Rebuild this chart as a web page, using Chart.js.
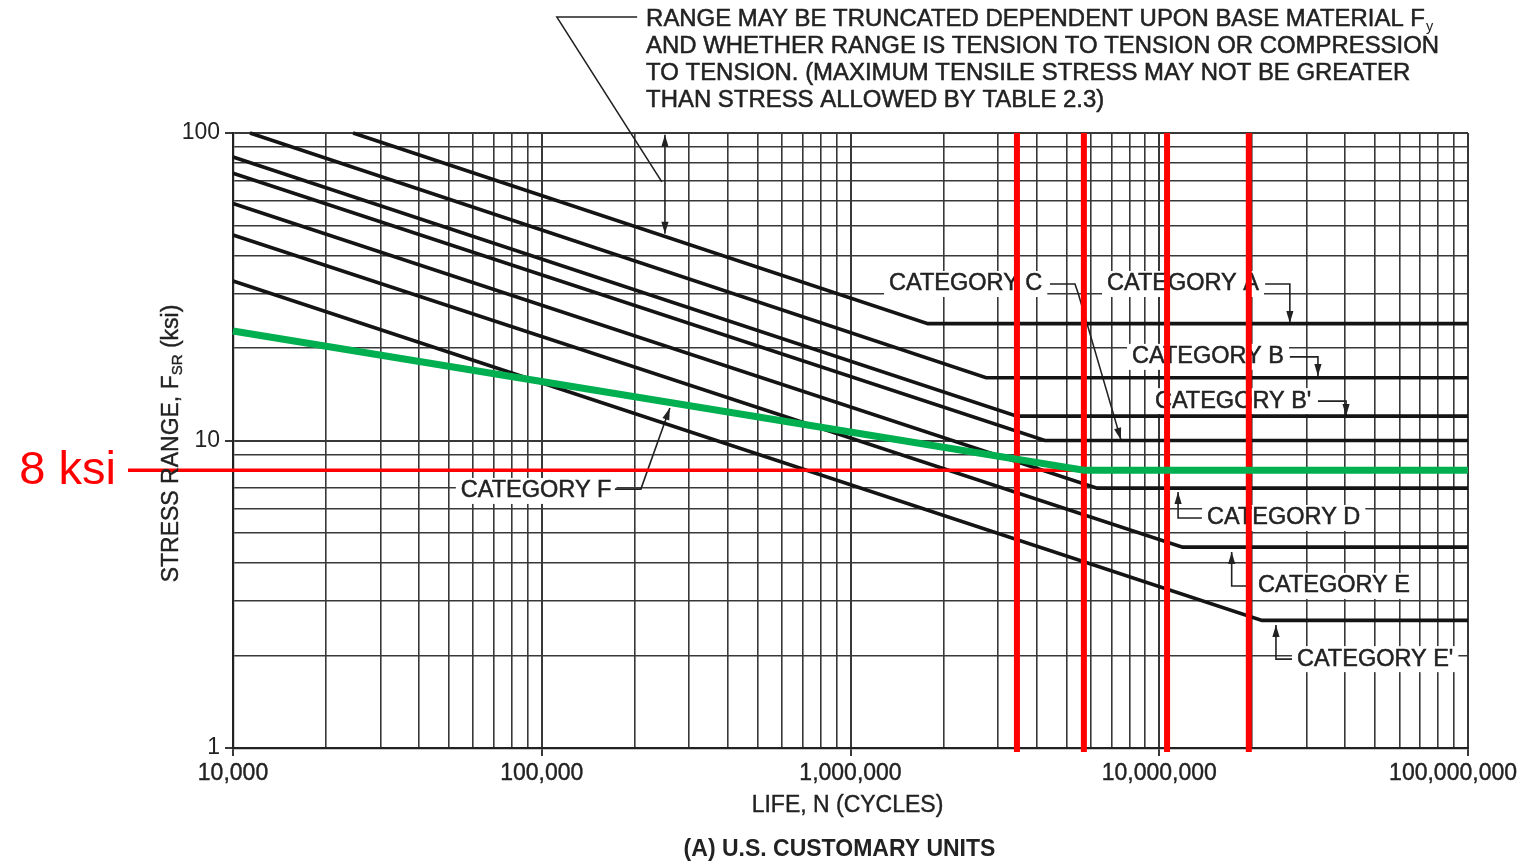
<!DOCTYPE html>
<html>
<head>
<meta charset="utf-8">
<script src="https://cdn.jsdelivr.net/npm/chart.js@4.4.1/dist/chart.umd.min.js"></script>
<style>
  html, body { margin: 0; padding: 0; background: #fff; }
  #wrap { width: 1524px; height: 866px; }
</style>
</head>
<body>
<div id="wrap"><canvas id="snChart" width="1524" height="866"></canvas></div>
<script>
// S-N curves, [cycles N, stress range ksi] at start, knee and end of each line
const catA  = [[24500, 100], [1.78e6, 24], [1e8, 24]];
const catB  = [[11350, 100], [2.75e6, 16], [1e8, 16]];
const catB1 = [[1e4, 83.5], [3.46e6, 12], [1e8, 12]];
const catC  = [[1e4, 74], [4.26e6, 10], [1e8, 10]];
const catD  = [[1e4, 59], [6.29e6, 7], [1e8, 7]];
const catE  = [[1e4, 46.6], [1.19e7, 4.5], [1e8, 4.5]];
const catE1 = [[1e4, 33], [2.15e7, 2.6], [1e8, 2.6]];
const catF  = [[1e4, 22.7], [5.7e6, 8], [1e8, 8]];

// red marks added on top of the figure
const markN = [3.46e6, 5.7e6, 1.06e7, 1.95e7];
const markSpanKsi = [100, 0.97];
const limitKsi = 8;
const limitSpanN = [4570, 1e8];

// axes
const decadesN = [1e4, 1e5, 1e6, 1e7, 1e8];
const labelsN = ["10,000", "100,000", "1,000,000", "10,000,000", "100,000,000"];
const decadesF = [1, 10, 100];
const labelsF = ["1", "10", "100"];
const minorSteps = [1, 2, 3, 4, 5, 6, 7, 8, 9];

const gridN = decadesN.flatMap(d => d === 1e8 ? [d] : minorSteps.map(m => m * d));
const gridF = decadesF.flatMap(d => d === 100 ? [d] : minorSteps.map(m => m * d));

const FONT = '"Liberation Sans", Arial, Helvetica, sans-serif';
const INK = "#222";
const GRID = "#383838";

// labels and leaders, in log10 units of (N, ksi)
const catLabels = [
  { text: "CATEGORY C", at: [6.125, 1.509] },
  { text: "CATEGORY A", at: [6.831, 1.509] },
  { text: "CATEGORY B", at: [6.912, 1.272] },
  { text: "CATEGORY B'", at: [6.986, 1.128] },
  { text: "CATEGORY D", at: [7.155, 0.748] },
  { text: "CATEGORY E", at: [7.320, 0.527] },
  { text: "CATEGORY E'", at: [7.446, 0.289] },
  { text: "CATEGORY F", at: [4.738, 0.836] }
];
const leaders = [
  { pts: [[7.343, 1.509], [7.423, 1.509], [7.423, 1.382]], arrow: "end" },
  { pts: [[7.423, 1.272], [7.514, 1.272], [7.514, 1.210]], arrow: "end" },
  { pts: [[7.514, 1.128], [7.605, 1.128], [7.605, 1.080]], arrow: "end" },
  { pts: [[6.646, 1.509], [6.727, 1.509], [6.737, 1.480], [6.876, 1.002]], arrow: "end" },
  { pts: [[7.138, 0.748], [7.061, 0.748], [7.061, 0.8325]], arrow: "end" },
  { pts: [[7.300, 0.527], [7.2346, 0.527], [7.2346, 0.6374]], arrow: "end" },
  { pts: [[7.430, 0.289], [7.378, 0.289], [7.378, 0.400]], arrow: "end" },
  { pts: [[5.237, 0.842], [5.321, 0.842], [5.415, 1.106]], arrow: "end" },
  { pts: [[5.309, 2.377], [5.049, 2.377], [5.389, 1.841]], arrow: "none" },
  { pts: [[5.399, 1.994], [5.399, 1.672]], arrow: "both" }
];
const noteLines = [
  "RANGE MAY BE TRUNCATED DEPENDENT UPON BASE MATERIAL F",
  "AND WHETHER RANGE IS TENSION TO TENSION OR COMPRESSION",
  "TO TENSION. (MAXIMUM TENSILE STRESS MAY NOT BE GREATER",
  "THAN STRESS ALLOWED BY TABLE 2.3)"
];
const noteAt = [5.338, 2.367];

const toXY = pts => pts.map(([x, y]) => ({ x, y }));

function arrowHead(ctx, from, to) {
  const a = Math.atan2(to[1] - from[1], to[0] - from[0]);
  const len = 12, half = 3.6;
  ctx.beginPath();
  ctx.moveTo(to[0], to[1]);
  ctx.lineTo(to[0] - len * Math.cos(a) + half * Math.sin(a), to[1] - len * Math.sin(a) - half * Math.cos(a));
  ctx.lineTo(to[0] - len * Math.cos(a) - half * Math.sin(a), to[1] - len * Math.sin(a) + half * Math.cos(a));
  ctx.closePath();
  ctx.fill();
}

// slightly heavier text, like the scanned lettering
function inkText(ctx, t, x, y) {
  ctx.fillText(t, x, y);
  ctx.strokeText(t, x, y);
}

const overlay = {
  id: "overlay",
  beforeDatasetsDraw(chart) {
    const { ctx, scales: { x, y } } = chart;
    const P = ([lx, ly]) => [x.getPixelForValue(10 ** lx), y.getPixelForValue(10 ** ly)];
    ctx.save();
    ctx.font = `23.5px ${FONT}`;
    ctx.textBaseline = "middle";
    ctx.lineWidth = 0.5;
    ctx.strokeStyle = INK;
    catLabels.forEach(l => {
      const [px, py] = P(l.at);
      const w = ctx.measureText(l.text).width;
      ctx.fillStyle = "#fff";
      ctx.fillRect(px - 5, py - 13, w + 10, 26);
      ctx.fillStyle = INK;
      inkText(ctx, l.text, px, py);
    });

    ctx.fillStyle = INK;
    ctx.lineWidth = 1.6;
    leaders.forEach(ld => {
      const p = ld.pts.map(P);
      ctx.beginPath();
      p.forEach(([px, py], i) => i ? ctx.lineTo(px, py) : ctx.moveTo(px, py));
      ctx.stroke();
      if (ld.arrow !== "none") arrowHead(ctx, p[p.length - 2], p[p.length - 1]);
      if (ld.arrow === "both") arrowHead(ctx, p[1], p[0]);
    });

    // note above the plot, a little stretched like the original lettering
    const [nx, ny] = P(noteAt);
    ctx.lineWidth = 0.5;
    ctx.translate(nx, ny);
    ctx.scale(1.04, 1);
    ctx.font = `23px ${FONT}`;
    noteLines.forEach((t, i) => inkText(ctx, t, 0, i * 26.7));
    const w0 = ctx.measureText(noteLines[0]).width;
    ctx.font = `14px ${FONT}`;
    ctx.fillText("y", w0 + 1, 7);
    ctx.restore();
  },
  afterDraw(chart) {
    const { ctx, scales: { x, y } } = chart;
    ctx.save();
    ctx.fillStyle = INK;
    ctx.strokeStyle = INK;
    ctx.lineWidth = 0.4;
    ctx.textBaseline = "middle";
    ctx.font = `23px ${FONT}`;
    decadesN.forEach((v, i) => {
      const w = ctx.measureText(labelsN[i]).width;
      const left = Math.min(x.getPixelForValue(v) - w / 2, chart.width - 7 - w);
      inkText(ctx, labelsN[i], left, 774);
    });

    ctx.textAlign = "center";
    inkText(ctx, "LIFE, N (CYCLES)", (x.left + x.right) / 2 - 3, 806);
    ctx.font = `bold 23px ${FONT}`;
    ctx.fillText("(A) U.S. CUSTOMARY UNITS", (x.left + x.right) / 2 - 11, 850);

    // y title with subscript
    ctx.textAlign = "left";
    const main = `23px ${FONT}`, sub = `15px ${FONT}`;
    const parts = [["STRESS RANGE, F", main, 0], ["SR", sub, 6], [" (ksi)", main, 0]];
    let total = 0;
    parts.forEach(([t, f]) => { ctx.font = f; total += ctx.measureText(t).width; });
    ctx.translate(172, (y.top + y.bottom) / 2 + 3);
    ctx.rotate(-Math.PI / 2);
    let cx = -total / 2;
    parts.forEach(([t, f, dy]) => {
      ctx.font = f;
      inkText(ctx, t, cx, dy);
      cx += ctx.measureText(t).width;
    });
    ctx.restore();

    ctx.save();
    ctx.fillStyle = "#ff0000";
    ctx.font = `47px ${FONT}`;
    ctx.textAlign = "right";
    ctx.textBaseline = "middle";
    ctx.fillText("8 ksi", 116, y.getPixelForValue(limitKsi) + 1);
    ctx.restore();
  }
};

const curve = (pts, color, width, order) => ({
  data: toXY(pts),
  showLine: true,
  borderColor: color,
  borderWidth: width,
  pointRadius: 0,
  fill: false,
  order,
  clip: false
});

const datasets = [
  ...[catA, catB, catB1, catC, catD, catE, catE1].map(c => curve(c, "#141414", 3.6, 3)),
  ...markN.map(n => curve(markSpanKsi.map(f => [n, f]), "#ff0000", 6, 1)),
  curve(limitSpanN.map(n => [n, limitKsi]), "#ff0000", 3.5, 1),
  curve(catF, "#00b050", 7, 0)
];

const isDecade = (list, v) => list.includes(v);

new Chart(document.getElementById("snChart"), {
  type: "scatter",
  data: { datasets },
  options: {
    responsive: false,
    animation: false,
    layout: { padding: { left: 0, top: 133, right: 56, bottom: 0 } },
    plugins: { legend: { display: false }, tooltip: { enabled: false } },
    scales: {
      x: {
        type: "logarithmic",
        min: 1e4,
        max: 1e8,
        afterBuildTicks: s => { s.ticks = gridN.map(value => ({ value })); },
        afterFit: s => { s.height = 118; },
        ticks: { display: false, autoSkip: false },
        grid: {
          color: GRID,
          lineWidth: c => (c.tick && isDecade(decadesN, c.tick.value)) ? 2 : 1.6,
          tickLength: 8,
          tickColor: c => (c.tick && isDecade(decadesN, c.tick.value)) ? GRID : "rgba(0,0,0,0)"
        },
        border: { display: true, color: "#222", width: 2.2 }
      },
      y: {
        type: "logarithmic",
        min: 1,
        max: 100,
        afterBuildTicks: s => { s.ticks = gridF.map(value => ({ value })); },
        afterFit: s => { s.width = 233; },
        ticks: {
          autoSkip: false,
          padding: 5,
          color: INK,
          font: { family: FONT, size: 23 },
          callback: v => {
            const i = decadesF.indexOf(v);
            return i >= 0 ? labelsF[i] : "";
          }
        },
        grid: {
          color: GRID,
          lineWidth: c => (c.tick && isDecade(decadesF, c.tick.value)) ? 2 : 1.6,
          tickLength: 8,
          tickColor: c => (c.tick && isDecade(decadesF, c.tick.value)) ? GRID : "rgba(0,0,0,0)"
        },
        border: { display: true, color: "#222", width: 2.2 }
      }
    }
  },
  plugins: [overlay]
});
</script>
</body>
</html>
